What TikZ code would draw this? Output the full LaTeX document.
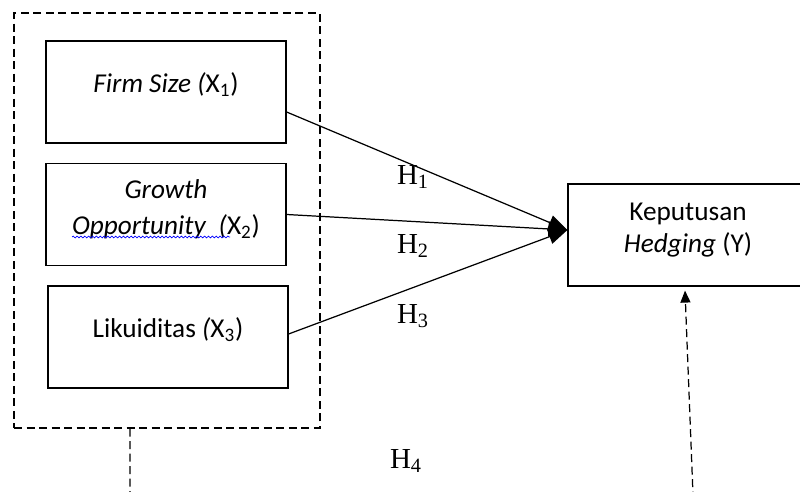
\documentclass[tikz,border=0pt]{standalone}
\usepackage{fontspec}
\setmainfont{Carlito}
\newfontfamily\hurufH{Liberation Serif}
\usetikzlibrary{arrows.meta,calc,decorations.pathmorphing}
\newcommand{\kotakLebar}{4.8cm}
\newcommand{\kotakTinggi}{2.04cm}
\newcommand{\garisTebal}{0.7pt}
\tikzset{
	kotak/.style={draw,line width=\garisTebal,minimum width=\kotakLebar,minimum height=\kotakTinggi,align=center,text depth=0.38cm,font=\fontsize{15.5}{18}\selectfont},
	putus/.style={line width=0.7pt,dash pattern=on 1.6mm off 0.9mm},
	panah/.style={line width=\garisTebal,-{Triangle[length=3.8mm,width=3mm]}},
	hipotesis/.style={font=\hurufH\fontsize{16.5}{19}\selectfont,inner sep=0pt}
}

\begin{document}
\begin{tikzpicture}[x=0.02cm,y=-0.02cm]
	\useasboundingbox (0,0) rectangle (800,492);
	% kotak putus-putus variabel bebas
	\node (luar) at (167,220.5)[putus,draw,inner sep=0pt,minimum width=6.12cm,minimum height=8.3cm]{};
	% variabel bebas
	\node (fs) at (166,92)[kotak]{\textit{Firm Size (}X\textsubscript{1})};
	\node (go) at (166,214.5)[kotak,text depth=0.3cm]{\textit{Growth}\\[2.5pt]\textit{Opportunity}~ \textit{(}X\textsubscript{2})};
	\node (lk) at (168,337)[kotak]{Likuiditas \textit{(}X\textsubscript{3})};
	% variabel terikat
	\node (hy) at (688,235)[kotak,text depth=0.3cm]{Keputusan\\\textit{Hedging} (Y)};
	% garis bawah ejaan
	\draw[blue,line width=0.4pt,decorate,decoration={snake,amplitude=0.5pt,segment length=2.2pt}]
	($(go.center)+(-94,22.5)$)--($(go.center)+(64,22.5)$);
	% hipotesis H1-H3
	\draw[panah] ([yshift=-0.4cm]fs.east)--([yshift=0.1cm]hy.west);
	\draw[panah] (go.east)--([yshift=0.1cm]hy.west);
	\draw[panah] ([yshift=0.06cm]lk.east)--([yshift=0.1cm]hy.west);
	\node (h1) at (413,177)[hipotesis]{H\textsubscript{1}};
	\node (h2) at (413,246)[hipotesis]{H\textsubscript{2}};
	\node (h3) at (413,316)[hipotesis]{H\textsubscript{3}};
	% hipotesis H4 (simultan)
	\node (h4) at (406,461)[hipotesis]{H\textsubscript{4}};
	\coordinate (sudut) at (693,495);
	\draw[putus,-{Triangle[length=2.4mm,width=2mm]}] ($(luar.south)+(-37,0)$) |- (sudut)--([xshift=-0.06cm,yshift=-0.08cm]hy.south);
\end{tikzpicture}
\end{document}
